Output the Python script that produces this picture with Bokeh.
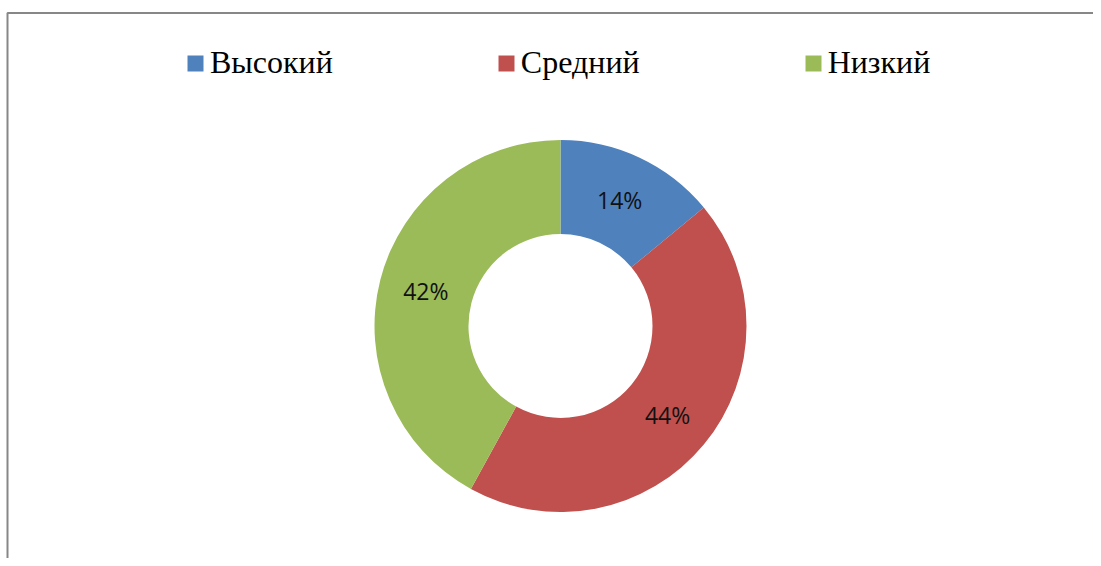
import numpy as np
from bokeh.plotting import figure
from bokeh.models import ColumnDataSource, Range1d, Legend, LegendItem
from bokeh.core.properties import value
from bokeh.embed import file_html
from bokeh.resources import INLINE

# ---- data ----
categories = ["Высокий", "Средний", "Низкий"]
shares = [14, 44, 42]
colors = ["#4F81BD", "#C0504D", "#9BBB59"]

W, H = 1093, 558
cx, cy = 560, 232.5
r_out, r_in = 186, 92

frac = np.array(shares, dtype=float) / sum(shares)
cum = np.concatenate([[0], np.cumsum(frac)[:-1]])
start = np.pi / 2 - 2 * np.pi * cum
end = start - 2 * np.pi * frac
mid = (start + end) / 2
r_lab = (r_out + r_in) / 2

src = ColumnDataSource(dict(
    cat=categories, share=shares, color=colors,
    start=start, end=end,
    lx=cx + r_lab * np.cos(mid), ly=cy + r_lab * np.sin(mid),
    lab=[f"{s}%" for s in shares],
))

p = figure(width=W, height=H, output_backend="svg", toolbar_location=None,
           x_range=Range1d(0, W), y_range=Range1d(0, H),
           x_axis_type=None, y_axis_type=None, min_border=0,
           background_fill_color="white", border_fill_color="white")
p.grid.visible = False
p.outline_line_color = None

# chart frame (only top and left edges are visible in the view)
p.line(x=[7, 7, W], y=[0, H - 12.5, H - 12.5],
       line_color="#878787", line_width=2)

r = p.annular_wedge(x=cx, y=cy, inner_radius=r_in, outer_radius=r_out,
                    start_angle="start", end_angle="end", direction="clock",
                    fill_color="color", line_color=None, source=src)

p.text(x="lx", y="ly", text="lab", source=src, text_align="center",
       text_baseline="middle", text_font=value("Open Sans"),
       text_font_size="23px", text_color="#111111")

legend = Legend(items=[LegendItem(label=c, renderers=[r], index=i)
                       for i, c in enumerate(categories)],
                orientation="horizontal", location=(185, 477),
                padding=0, margin=0, spacing=163,
                glyph_width=20, glyph_height=20, label_standoff=5,
                label_text_font="Liberation Serif", label_text_font_size="32px",
                label_text_color="black",
                border_line_color=None, background_fill_alpha=0)
p.add_layout(legend)

open("out.html", "w").write(file_html(p, INLINE))
